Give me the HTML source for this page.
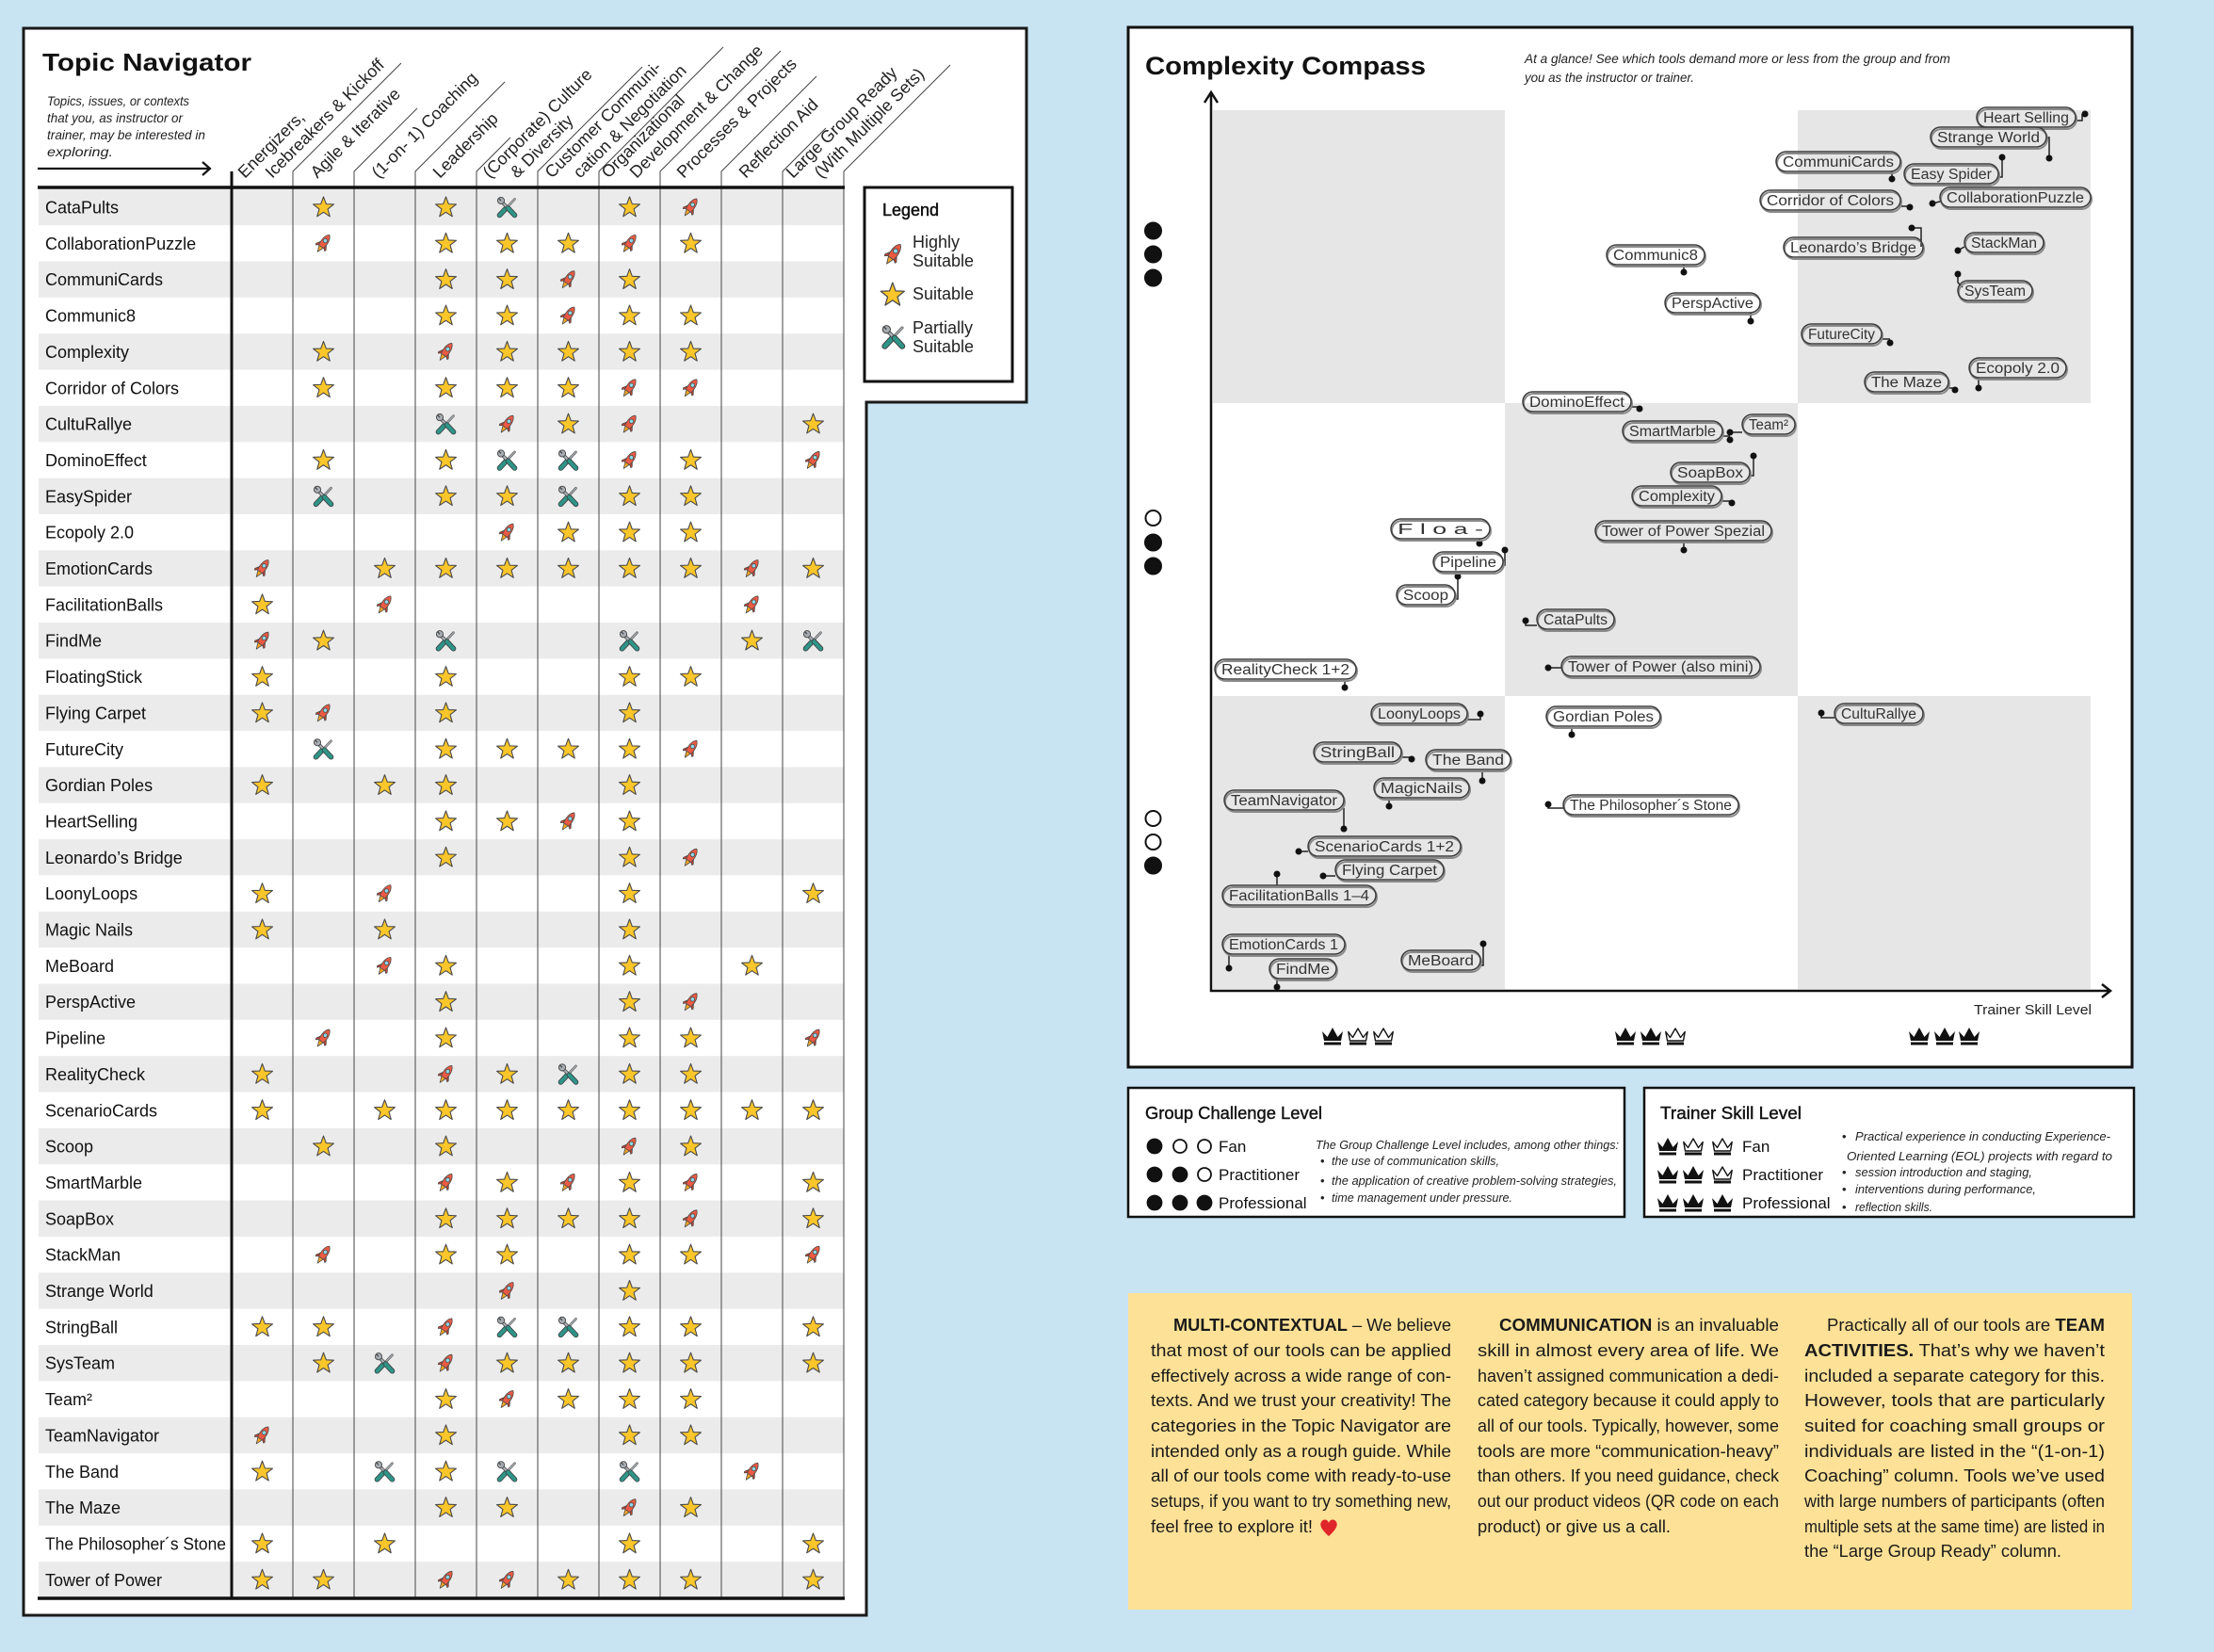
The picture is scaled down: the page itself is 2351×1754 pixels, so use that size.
<!DOCTYPE html>
<html><head><meta charset="utf-8">
<style>html,body{margin:0;padding:0;background:#c8e4f3;}svg{display:block}
.ps{fill:none;stroke:#8a8a8a;stroke-width:2}
.pm{fill:none;stroke:#3c3c3c;stroke-width:1.5}
</style>
</head><body>
<svg width="2351" height="1754" viewBox="0 0 2351 1754" xmlns="http://www.w3.org/2000/svg" xmlns:xlink="http://www.w3.org/1999/xlink" font-family="'Liberation Sans', sans-serif">
<defs>
<g id="s"><polygon points="12,1 14.82,8.62 22.94,8.95 16.57,13.98 18.76,21.8 12,17.3 5.24,21.8 7.43,13.98 1.06,8.95 9.18,8.62" fill="#fbc62a" stroke="#4a4a4a" stroke-width="1.1" stroke-linejoin="round"/></g>
<g id="r"><g transform="rotate(35 12 12)" stroke="#4a4a4a" stroke-width="0.8" stroke-linejoin="round">
<path d="M9.3,16 L12,23 L14.7,16 Z" fill="#f7a823"/>
<path d="M8.8,11.5 L5.6,16.5 L6.2,18 L9,15.8 Z" fill="#c8412f"/>
<path d="M15.2,11.5 L18.4,16.5 L17.8,18 L15,15.8 Z" fill="#c8412f"/>
<path d="M12,1 C15.6,3.8 16.2,10 15.2,16.3 L8.8,16.3 C7.8,10 8.4,3.8 12,1 Z" fill="#ec5a43"/>
<circle cx="12" cy="8.6" r="2.2" fill="#8fd8ea"/>
</g></g>
<g id="t">
<line x1="11.5" y1="12.5" x2="20" y2="3.5" stroke="#555" stroke-width="2.6" stroke-linecap="round"/>
<line x1="11.5" y1="12.5" x2="20" y2="3.5" stroke="#a7adb2" stroke-width="1.4" stroke-linecap="round"/>
<line x1="4" y1="20.5" x2="11" y2="13" stroke="#3a3a3a" stroke-width="5.6" stroke-linecap="round"/>
<line x1="4" y1="20.5" x2="11" y2="13" stroke="#2f9488" stroke-width="4" stroke-linecap="round"/>
<line x1="6" y1="6" x2="13" y2="13" stroke="#444" stroke-width="3.6" stroke-linecap="round"/>
<line x1="6" y1="6" x2="13" y2="13" stroke="#a7adb2" stroke-width="2.2"/>
<circle cx="5.5" cy="5" r="3.6" fill="#a7adb2" stroke="#444" stroke-width="0.9"/>
<line x1="3" y1="2.5" x2="5.5" y2="5" stroke="#444" stroke-width="1.2"/>
<line x1="13" y1="13" x2="20" y2="20.5" stroke="#3a3a3a" stroke-width="5.6" stroke-linecap="round"/>
<line x1="13" y1="13" x2="20" y2="20.5" stroke="#2f9488" stroke-width="4" stroke-linecap="round"/>
</g>
<g id="cf"><path d="M0,4 L5.5,10 L11,0 L16.5,10 L22,4 L20,14 L2,14 Z" fill="#111"/><rect x="2" y="15.5" width="18" height="3" fill="#111"/></g>
<g id="co"><path d="M0.8,4.5 L5.5,10.5 L11,1 L16.5,10.5 L21.2,4.5 L19.5,14 L2.5,14 Z" fill="#fff" stroke="#111" stroke-width="1.4" stroke-linejoin="round"/><rect x="2" y="15.5" width="18" height="3" fill="#111"/></g>
</defs>

<rect x="0" y="0" width="2351" height="1754" fill="#c8e4f3"/>

<!-- LEFT PANEL -->
<polygon points="25,30 1090,30 1090,427 920,427 920,1715 25,1715" fill="#fff" stroke="#1a1a1a" stroke-width="3"/>
<text x="45" y="75" font-size="26" font-weight="bold" fill="#111" textLength="222" lengthAdjust="spacingAndGlyphs">Topic Navigator</text>
<g font-size="14" font-style="italic" fill="#222">
<text x="50" y="112" textLength="151" lengthAdjust="spacingAndGlyphs">Topics, issues, or contexts</text>
<text x="50" y="130" textLength="144" lengthAdjust="spacingAndGlyphs">that you, as instructor or</text>
<text x="50" y="148" textLength="168" lengthAdjust="spacingAndGlyphs">trainer, may be interested in</text>
<text x="50" y="166" textLength="70" lengthAdjust="spacingAndGlyphs">exploring.</text>
</g>
<path d="M40,179 H223 M215,172 L223,179 L215,186" fill="none" stroke="#111" stroke-width="2.2"/>

<!-- grey rows -->
<g fill="#ebebeb">
<rect x="41" y="200.8" width="855" height="38.35"/>
<rect x="41" y="277.5" width="855" height="38.35"/>
<rect x="41" y="354.2" width="855" height="38.35"/>
<rect x="41" y="430.9" width="855" height="38.35"/>
<rect x="41" y="507.6" width="855" height="38.35"/>
<rect x="41" y="584.3" width="855" height="38.35"/>
<rect x="41" y="661.0" width="855" height="38.35"/>
<rect x="41" y="737.7" width="855" height="38.35"/>
<rect x="41" y="814.4" width="855" height="38.35"/>
<rect x="41" y="891.1" width="855" height="38.35"/>
<rect x="41" y="967.8" width="855" height="38.35"/>
<rect x="41" y="1044.5" width="855" height="38.35"/>
<rect x="41" y="1121.2" width="855" height="38.35"/>
<rect x="41" y="1197.9" width="855" height="38.35"/>
<rect x="41" y="1274.6" width="855" height="38.35"/>
<rect x="41" y="1351.3" width="855" height="38.35"/>
<rect x="41" y="1428.0" width="855" height="38.35"/>
<rect x="41" y="1504.7" width="855" height="38.35"/>
<rect x="41" y="1581.4" width="855" height="38.35"/>
<rect x="41" y="1658.1" width="855" height="38.35"/>
</g>

<!-- column dividers and slants -->
<g stroke="#444" stroke-width="1" fill="none">
<path d="M311,1697 V182 L426,67"/>
<path d="M376,1697 V182 L443,115"/>
<path d="M441,1697 V182 L536,87"/>
<path d="M506,1697 V182 L542,146"/>
<path d="M571,1697 V182 L682,71"/>
<path d="M636,1697 V182 L768,50"/>
<path d="M701,1697 V182 L829,54"/>
<path d="M766,1697 V182 L867,81"/>
<path d="M831,1697 V182 L877,136"/>
<path d="M896,1697 V182 L1009,69"/>
</g>
<line x1="246" y1="182" x2="246" y2="1698" stroke="#111" stroke-width="3"/>
<line x1="40" y1="199" x2="897" y2="199" stroke="#111" stroke-width="3.5"/>
<line x1="40" y1="1697" x2="897" y2="1697" stroke="#111" stroke-width="3.5"/>

<!-- rotated headers -->
<g font-size="18" fill="#222">
<text x="260" y="190" transform="rotate(-45 260 190)">Energizers,</text>
<text x="289" y="190" transform="rotate(-45 289 190)">Icebreakers &amp; Kickoff</text>
<text x="337" y="190" transform="rotate(-45 337 190)">Agile &amp; Iterative</text>
<text x="402" y="190" transform="rotate(-45 402 190)">(1-on- 1) Coaching</text>
<text x="467" y="190" transform="rotate(-45 467 190)">Leadership</text>
<text x="520" y="190" transform="rotate(-45 520 190)">(Corporate) Culture</text>
<text x="549" y="190" transform="rotate(-45 549 190)">&amp; Diversity</text>
<text x="586" y="190" transform="rotate(-45 586 190)">Customer Communi-</text>
<text x="616" y="190" transform="rotate(-45 616 190)">cation &amp; Negotiation</text>
<text x="646" y="190" transform="rotate(-45 646 190)">Organizational</text>
<text x="676" y="190" transform="rotate(-45 676 190)">Development &amp; Change</text>
<text x="726" y="190" transform="rotate(-45 726 190)">Processes &amp; Projects</text>
<text x="792" y="190" transform="rotate(-45 792 190)">Reflection Aid</text>
<text x="842" y="190" transform="rotate(-45 842 190)">Large Group Ready</text>
<text x="872" y="190" transform="rotate(-45 872 190)">(With Multiple Sets)</text>
</g>

<!-- names -->
<g font-size="18" fill="#111">
<text x="48" y="226.5">CataPults</text>
<text x="48" y="264.9">CollaborationPuzzle</text>
<text x="48" y="303.2">CommuniCards</text>
<text x="48" y="341.6">Communic8</text>
<text x="48" y="379.9">Complexity</text>
<text x="48" y="418.3">Corridor of Colors</text>
<text x="48" y="456.6">CultuRallye</text>
<text x="48" y="495.0">DominoEffect</text>
<text x="48" y="533.3">EasySpider</text>
<text x="48" y="571.7">Ecopoly 2.0</text>
<text x="48" y="610.0">EmotionCards</text>
<text x="48" y="648.4">FacilitationBalls</text>
<text x="48" y="686.7">FindMe</text>
<text x="48" y="725.1">FloatingStick</text>
<text x="48" y="763.4">Flying Carpet</text>
<text x="48" y="801.8">FutureCity</text>
<text x="48" y="840.1">Gordian Poles</text>
<text x="48" y="878.5">HeartSelling</text>
<text x="48" y="916.8">Leonardo’s Bridge</text>
<text x="48" y="955.2">LoonyLoops</text>
<text x="48" y="993.5">Magic Nails</text>
<text x="48" y="1031.9">MeBoard</text>
<text x="48" y="1070.2">PerspActive</text>
<text x="48" y="1108.6">Pipeline</text>
<text x="48" y="1146.9">RealityCheck</text>
<text x="48" y="1185.3">ScenarioCards</text>
<text x="48" y="1223.6">Scoop</text>
<text x="48" y="1262.0">SmartMarble</text>
<text x="48" y="1300.3">SoapBox</text>
<text x="48" y="1338.7">StackMan</text>
<text x="48" y="1377.0">Strange World</text>
<text x="48" y="1415.4">StringBall</text>
<text x="48" y="1453.7">SysTeam</text>
<text x="48" y="1492.1">Team²</text>
<text x="48" y="1530.4">TeamNavigator</text>
<text x="48" y="1568.8">The Band</text>
<text x="48" y="1607.1">The Maze</text>
<text x="48" y="1645.5" textLength="192" lengthAdjust="spacingAndGlyphs">The Philosopher´s Stone</text>
<text x="48" y="1683.8">Tower of Power</text>
</g>

<!-- icons -->
<g transform="translate(0,208)"><use href="#s" x="331.5"/><use href="#s" x="461.5"/><use href="#t" x="526.5"/><use href="#s" x="656.5"/><use href="#r" x="721.5"/></g>
<g transform="translate(0,246.35)"><use href="#r" x="331.5"/><use href="#s" x="461.5"/><use href="#s" x="526.5"/><use href="#s" x="591.5"/><use href="#r" x="656.5"/><use href="#s" x="721.5"/></g>
<g transform="translate(0,284.7)"><use href="#s" x="461.5"/><use href="#s" x="526.5"/><use href="#r" x="591.5"/><use href="#s" x="656.5"/></g>
<g transform="translate(0,323.05)"><use href="#s" x="461.5"/><use href="#s" x="526.5"/><use href="#r" x="591.5"/><use href="#s" x="656.5"/><use href="#s" x="721.5"/></g>
<g transform="translate(0,361.4)"><use href="#s" x="331.5"/><use href="#r" x="461.5"/><use href="#s" x="526.5"/><use href="#s" x="591.5"/><use href="#s" x="656.5"/><use href="#s" x="721.5"/></g>
<g transform="translate(0,399.75)"><use href="#s" x="331.5"/><use href="#s" x="461.5"/><use href="#s" x="526.5"/><use href="#s" x="591.5"/><use href="#r" x="656.5"/><use href="#r" x="721.5"/></g>
<g transform="translate(0,438.1)"><use href="#t" x="461.5"/><use href="#r" x="526.5"/><use href="#s" x="591.5"/><use href="#r" x="656.5"/><use href="#s" x="851.5"/></g>
<g transform="translate(0,476.45)"><use href="#s" x="331.5"/><use href="#s" x="461.5"/><use href="#t" x="526.5"/><use href="#t" x="591.5"/><use href="#r" x="656.5"/><use href="#s" x="721.5"/><use href="#r" x="851.5"/></g>
<g transform="translate(0,514.8)"><use href="#t" x="331.5"/><use href="#s" x="461.5"/><use href="#s" x="526.5"/><use href="#t" x="591.5"/><use href="#s" x="656.5"/><use href="#s" x="721.5"/></g>
<g transform="translate(0,553.15)"><use href="#r" x="526.5"/><use href="#s" x="591.5"/><use href="#s" x="656.5"/><use href="#s" x="721.5"/></g>
<g transform="translate(0,591.5)"><use href="#r" x="266.5"/><use href="#s" x="396.5"/><use href="#s" x="461.5"/><use href="#s" x="526.5"/><use href="#s" x="591.5"/><use href="#s" x="656.5"/><use href="#s" x="721.5"/><use href="#r" x="786.5"/><use href="#s" x="851.5"/></g>
<g transform="translate(0,629.85)"><use href="#s" x="266.5"/><use href="#r" x="396.5"/><use href="#r" x="786.5"/></g>
<g transform="translate(0,668.2)"><use href="#r" x="266.5"/><use href="#s" x="331.5"/><use href="#t" x="461.5"/><use href="#t" x="656.5"/><use href="#s" x="786.5"/><use href="#t" x="851.5"/></g>
<g transform="translate(0,706.55)"><use href="#s" x="266.5"/><use href="#s" x="461.5"/><use href="#s" x="656.5"/><use href="#s" x="721.5"/></g>
<g transform="translate(0,744.9)"><use href="#s" x="266.5"/><use href="#r" x="331.5"/><use href="#s" x="461.5"/><use href="#s" x="656.5"/></g>
<g transform="translate(0,783.25)"><use href="#t" x="331.5"/><use href="#s" x="461.5"/><use href="#s" x="526.5"/><use href="#s" x="591.5"/><use href="#s" x="656.5"/><use href="#r" x="721.5"/></g>
<g transform="translate(0,821.6)"><use href="#s" x="266.5"/><use href="#s" x="396.5"/><use href="#s" x="461.5"/><use href="#s" x="656.5"/></g>
<g transform="translate(0,859.95)"><use href="#s" x="461.5"/><use href="#s" x="526.5"/><use href="#r" x="591.5"/><use href="#s" x="656.5"/></g>
<g transform="translate(0,898.3)"><use href="#s" x="461.5"/><use href="#s" x="656.5"/><use href="#r" x="721.5"/></g>
<g transform="translate(0,936.65)"><use href="#s" x="266.5"/><use href="#r" x="396.5"/><use href="#s" x="656.5"/><use href="#s" x="851.5"/></g>
<g transform="translate(0,975)"><use href="#s" x="266.5"/><use href="#s" x="396.5"/><use href="#s" x="656.5"/></g>
<g transform="translate(0,1013.35)"><use href="#r" x="396.5"/><use href="#s" x="461.5"/><use href="#s" x="656.5"/><use href="#s" x="786.5"/></g>
<g transform="translate(0,1051.7)"><use href="#s" x="461.5"/><use href="#s" x="656.5"/><use href="#r" x="721.5"/></g>
<g transform="translate(0,1090.05)"><use href="#r" x="331.5"/><use href="#s" x="461.5"/><use href="#s" x="656.5"/><use href="#s" x="721.5"/><use href="#r" x="851.5"/></g>
<g transform="translate(0,1128.4)"><use href="#s" x="266.5"/><use href="#r" x="461.5"/><use href="#s" x="526.5"/><use href="#t" x="591.5"/><use href="#s" x="656.5"/><use href="#s" x="721.5"/></g>
<g transform="translate(0,1166.75)"><use href="#s" x="266.5"/><use href="#s" x="396.5"/><use href="#s" x="461.5"/><use href="#s" x="526.5"/><use href="#s" x="591.5"/><use href="#s" x="656.5"/><use href="#s" x="721.5"/><use href="#s" x="786.5"/><use href="#s" x="851.5"/></g>
<g transform="translate(0,1205.1)"><use href="#s" x="331.5"/><use href="#s" x="461.5"/><use href="#r" x="656.5"/><use href="#s" x="721.5"/></g>
<g transform="translate(0,1243.45)"><use href="#r" x="461.5"/><use href="#s" x="526.5"/><use href="#r" x="591.5"/><use href="#s" x="656.5"/><use href="#r" x="721.5"/><use href="#s" x="851.5"/></g>
<g transform="translate(0,1281.8)"><use href="#s" x="461.5"/><use href="#s" x="526.5"/><use href="#s" x="591.5"/><use href="#s" x="656.5"/><use href="#r" x="721.5"/><use href="#s" x="851.5"/></g>
<g transform="translate(0,1320.15)"><use href="#r" x="331.5"/><use href="#s" x="461.5"/><use href="#s" x="526.5"/><use href="#s" x="656.5"/><use href="#s" x="721.5"/><use href="#r" x="851.5"/></g>
<g transform="translate(0,1358.5)"><use href="#r" x="526.5"/><use href="#s" x="656.5"/></g>
<g transform="translate(0,1396.85)"><use href="#s" x="266.5"/><use href="#s" x="331.5"/><use href="#r" x="461.5"/><use href="#t" x="526.5"/><use href="#t" x="591.5"/><use href="#s" x="656.5"/><use href="#s" x="721.5"/><use href="#s" x="851.5"/></g>
<g transform="translate(0,1435.2)"><use href="#s" x="331.5"/><use href="#t" x="396.5"/><use href="#r" x="461.5"/><use href="#s" x="526.5"/><use href="#s" x="591.5"/><use href="#s" x="656.5"/><use href="#s" x="721.5"/><use href="#s" x="851.5"/></g>
<g transform="translate(0,1473.55)"><use href="#s" x="461.5"/><use href="#r" x="526.5"/><use href="#s" x="591.5"/><use href="#s" x="656.5"/><use href="#s" x="721.5"/></g>
<g transform="translate(0,1511.9)"><use href="#r" x="266.5"/><use href="#s" x="461.5"/><use href="#s" x="656.5"/><use href="#s" x="721.5"/></g>
<g transform="translate(0,1550.25)"><use href="#s" x="266.5"/><use href="#t" x="396.5"/><use href="#s" x="461.5"/><use href="#t" x="526.5"/><use href="#t" x="656.5"/><use href="#r" x="786.5"/></g>
<g transform="translate(0,1588.6)"><use href="#s" x="461.5"/><use href="#s" x="526.5"/><use href="#r" x="656.5"/><use href="#s" x="721.5"/></g>
<g transform="translate(0,1626.95)"><use href="#s" x="266.5"/><use href="#s" x="396.5"/><use href="#s" x="656.5"/><use href="#s" x="851.5"/></g>
<g transform="translate(0,1665.3)"><use href="#s" x="266.5"/><use href="#s" x="331.5"/><use href="#r" x="461.5"/><use href="#r" x="526.5"/><use href="#s" x="591.5"/><use href="#s" x="656.5"/><use href="#s" x="721.5"/><use href="#s" x="851.5"/></g>

<!-- LEGEND BOX -->
<rect x="918" y="199" width="157" height="206" fill="#fff" stroke="#111" stroke-width="3"/>
<text x="937" y="229" font-size="18" fill="#111" stroke="#111" stroke-width="0.5">Legend</text>
<g transform="translate(935,256) scale(1.15)"><use href="#r"/></g>
<g transform="translate(934,299) scale(1.15)"><use href="#s"/></g>
<g transform="translate(935,344) scale(1.15)"><use href="#t"/></g>
<g font-size="18" fill="#222">
<text x="969" y="263">Highly</text>
<text x="969" y="283">Suitable</text>
<text x="969" y="318">Suitable</text>
<text x="969" y="354">Partially</text>
<text x="969" y="374">Suitable</text>
</g>

<!-- COMPLEXITY COMPASS PANEL -->
<rect x="1198" y="29" width="1066" height="1104" fill="#fff" stroke="#111" stroke-width="3"/>
<text x="1216" y="79" font-size="27" font-weight="bold" fill="#111" textLength="298" lengthAdjust="spacingAndGlyphs">Complexity Compass</text>
<text x="1619" y="67" font-size="14" font-style="italic" fill="#222" textLength="452" lengthAdjust="spacingAndGlyphs">At a glance! See which tools demand more or less from the group and from</text>
<text x="1619" y="87" font-size="14" font-style="italic" fill="#222" textLength="180" lengthAdjust="spacingAndGlyphs">you as the instructor or trainer.</text>

<g fill="#e6e6e6">
<rect x="1288" y="117" width="310" height="311"/>
<rect x="1909" y="117" width="311" height="311"/>
<rect x="1598" y="428" width="311" height="311"/>
<rect x="1288" y="739" width="310" height="311"/>
<rect x="1909" y="739" width="311" height="311"/>
</g>
<path d="M1286,1053 V98 M1279,109 L1286,98 L1293,109" fill="none" stroke="#111" stroke-width="2.5"/>
<path d="M1285,1052 H2241 M2232,1045 L2241,1052 L2232,1059" fill="none" stroke="#111" stroke-width="2.5"/>

<g fill="#111" stroke="#111" stroke-width="2">
<circle cx="1224.5" cy="245" r="8.5"/>
<circle cx="1224.5" cy="270" r="8.5"/>
<circle cx="1224.5" cy="295" r="8.5"/>
<circle cx="1224.5" cy="550" r="8" fill="#fff"/>
<circle cx="1224.5" cy="576" r="8.5"/>
<circle cx="1224.5" cy="601" r="8.5"/>
<circle cx="1224.5" cy="869" r="8" fill="#fff"/>
<circle cx="1224.5" cy="894" r="8" fill="#fff"/>
<circle cx="1224.5" cy="919" r="8.5"/>
</g>

<text x="2221" y="1077" font-size="15" fill="#222" text-anchor="end" textLength="125" lengthAdjust="spacingAndGlyphs">Trainer Skill Level</text>
<use href="#cf" x="1404" y="1091"/><use href="#co" x="1431" y="1091"/><use href="#co" x="1458" y="1091"/>
<use href="#cf" x="1715" y="1091"/><use href="#cf" x="1742" y="1091"/><use href="#co" x="1768" y="1091"/>
<use href="#cf" x="2027" y="1091"/><use href="#cf" x="2054" y="1091"/><use href="#cf" x="2080" y="1091"/>

<!-- connectors -->
<g fill="none" stroke="#222" stroke-width="1.5">
<path d="M2204,128 H2211 V121"/>
<path d="M2173,146 H2176 V168"/>
<path d="M2009,182 V190"/>
<path d="M2122,188 H2126 V167"/>
<path d="M2018,219 H2028"/>
<path d="M2060,214 L2052,216"/>
<path d="M2030,242 H2040 V262"/>
<path d="M2079,266 L2086,262"/>
<path d="M2079,291 V300 L2084,305"/>
<path d="M1788,281 V289"/>
<path d="M1859,332 V341"/>
<path d="M1998,360 H2007"/>
<path d="M2101,401 V412"/>
<path d="M2069,412 H2076"/>
<path d="M1732,432 H1741"/>
<path d="M1829,463 H1837 M1837,459 H1850"/>
<path d="M1858,505 H1862 V484"/>
<path d="M1828,532 H1839"/>
<path d="M1788,575 V584"/>
<path d="M1571,572 V577"/>
<path d="M1596,600 H1598 V584"/>
<path d="M1545,636 H1548 V612"/>
<path d="M1620,659 V664 H1632"/>
<path d="M1644,709 H1658"/>
<path d="M1428,722 V730"/>
<path d="M1558,764 H1572 V758"/>
<path d="M1669,772 V780"/>
<path d="M1934,757 V762 H1948"/>
<path d="M1488,804 H1499"/>
<path d="M1574,818 V829"/>
<path d="M1475,848 V856"/>
<path d="M1427,858 V880"/>
<path d="M1379,904 H1389"/>
<path d="M1405,930 H1418"/>
<path d="M1356,928 V940"/>
<path d="M1305,1013 V1028"/>
<path d="M1356,1040 V1048"/>
<path d="M1572,1025 H1575 V1002"/>
<path d="M1644,854 V858 H1660"/>
</g>
<g fill="#111">
<circle cx="2214" cy="121" r="3.5"/><circle cx="2176" cy="168" r="3.5"/><circle cx="2009" cy="190" r="3.5"/>
<circle cx="2126" cy="167" r="3.5"/><circle cx="2028" cy="220" r="3.5"/><circle cx="2052" cy="216" r="3.5"/>
<circle cx="2030" cy="242" r="3.5"/><circle cx="2079" cy="266" r="3.5"/><circle cx="2079" cy="291" r="3.5"/>
<circle cx="1788" cy="289" r="3.5"/><circle cx="1859" cy="341" r="3.5"/><circle cx="2007" cy="364" r="3.5"/>
<circle cx="2101" cy="412" r="3.5"/><circle cx="2076" cy="414" r="3.5"/><circle cx="1741" cy="434" r="3.5"/>
<circle cx="1837" cy="459" r="3.5"/><circle cx="1837" cy="467" r="3.5"/><circle cx="1862" cy="484" r="3.5"/>
<circle cx="1839" cy="534" r="3.5"/><circle cx="1788" cy="584" r="3.5"/><circle cx="1571" cy="577" r="3.5"/>
<circle cx="1598" cy="584" r="3.5"/><circle cx="1548" cy="612" r="3.5"/><circle cx="1620" cy="659" r="3.5"/>
<circle cx="1644" cy="709" r="3.5"/><circle cx="1428" cy="730" r="3.5"/><circle cx="1572" cy="758" r="3.5"/>
<circle cx="1669" cy="780" r="3.5"/><circle cx="1934" cy="757" r="3.5"/><circle cx="1499" cy="806" r="3.5"/>
<circle cx="1574" cy="829" r="3.5"/><circle cx="1475" cy="856" r="3.5"/><circle cx="1427" cy="880" r="3.5"/>
<circle cx="1379" cy="904" r="3.5"/><circle cx="1405" cy="930" r="3.5"/><circle cx="1356" cy="928" r="3.5"/>
<circle cx="1305" cy="1028" r="3.5"/><circle cx="1356" cy="1048" r="3.5"/><circle cx="1575" cy="1002" r="3.5"/>
<circle cx="1644" cy="854" r="3.5"/>
</g>

<!-- pills -->
<g font-size="15.5" fill="#333">
<g><rect class="ps" x="2100" y="116" width="105" height="21" rx="10.5"/><rect class="pm" x="2099" y="114" width="105" height="21" rx="10.5"/><text x="2106" y="130" textLength="91" lengthAdjust="spacingAndGlyphs">Heart Selling</text></g>
<g><rect class="ps" x="2051" y="137" width="123" height="21" rx="10.5"/><rect class="pm" x="2050" y="135" width="123" height="21" rx="10.5"/><text x="2057" y="151" textLength="109" lengthAdjust="spacingAndGlyphs">Strange World</text></g>
<g><rect class="ps" x="1887" y="163" width="132" height="21" rx="10.5"/><rect class="pm" x="1886" y="161" width="132" height="21" rx="10.5"/><text x="1893" y="177" textLength="118" lengthAdjust="spacingAndGlyphs">CommuniCards</text></g>
<g><rect class="ps" x="2023" y="176" width="100" height="21" rx="10.5"/><rect class="pm" x="2022" y="174" width="100" height="21" rx="10.5"/><text x="2029" y="190" textLength="86" lengthAdjust="spacingAndGlyphs">Easy Spider</text></g>
<g><rect class="ps" x="1870" y="204" width="149" height="21" rx="10.5"/><rect class="pm" x="1869" y="202" width="149" height="21" rx="10.5"/><text x="1876" y="218" textLength="135" lengthAdjust="spacingAndGlyphs">Corridor of Colors</text></g>
<g><rect class="ps" x="2061" y="201" width="160" height="21" rx="10.5"/><rect class="pm" x="2060" y="199" width="160" height="21" rx="10.5"/><text x="2067" y="215" textLength="146" lengthAdjust="spacingAndGlyphs">CollaborationPuzzle</text></g>
<g><rect class="ps" x="1895" y="254" width="148" height="21" rx="10.5"/><rect class="pm" x="1894" y="252" width="148" height="21" rx="10.5"/><text x="1901" y="268" textLength="134" lengthAdjust="spacingAndGlyphs">Leonardo’s Bridge</text></g>
<g><rect class="ps" x="2087" y="249" width="84" height="21" rx="10.5"/><rect class="pm" x="2086" y="247" width="84" height="21" rx="10.5"/><text x="2093" y="263" textLength="70" lengthAdjust="spacingAndGlyphs">StackMan</text></g>
<g><rect class="ps" x="2080" y="300" width="79" height="21" rx="10.5"/><rect class="pm" x="2079" y="298" width="79" height="21" rx="10.5"/><text x="2086" y="314" textLength="65" lengthAdjust="spacingAndGlyphs">SysTeam</text></g>
<g><rect class="ps" x="1707" y="262" width="104" height="21" rx="10.5"/><rect class="pm" x="1706" y="260" width="104" height="21" rx="10.5"/><text x="1713" y="276" textLength="90" lengthAdjust="spacingAndGlyphs">Communic8</text></g>
<g><rect class="ps" x="1769" y="313" width="101" height="21" rx="10.5"/><rect class="pm" x="1768" y="311" width="101" height="21" rx="10.5"/><text x="1775" y="327" textLength="87" lengthAdjust="spacingAndGlyphs">PerspActive</text></g>
<g><rect class="ps" x="1914" y="346" width="85" height="21" rx="10.5"/><rect class="pm" x="1913" y="344" width="85" height="21" rx="10.5"/><text x="1920" y="360" textLength="71" lengthAdjust="spacingAndGlyphs">FutureCity</text></g>
<g><rect class="ps" x="2092" y="382" width="103" height="21" rx="10.5"/><rect class="pm" x="2091" y="380" width="103" height="21" rx="10.5"/><text x="2098" y="396" textLength="89" lengthAdjust="spacingAndGlyphs">Ecopoly 2.0</text></g>
<g><rect class="ps" x="1981" y="397" width="89" height="21" rx="10.5"/><rect class="pm" x="1980" y="395" width="89" height="21" rx="10.5"/><text x="1987" y="411" textLength="75" lengthAdjust="spacingAndGlyphs">The Maze</text></g>
<g><rect class="ps" x="1618" y="418" width="115" height="21" rx="10.5"/><rect class="pm" x="1617" y="416" width="115" height="21" rx="10.5"/><text x="1624" y="432" textLength="101" lengthAdjust="spacingAndGlyphs">DominoEffect</text></g>
<g><rect class="ps" x="1724" y="449" width="106" height="21" rx="10.5"/><rect class="pm" x="1723" y="447" width="106" height="21" rx="10.5"/><text x="1730" y="463" textLength="92" lengthAdjust="spacingAndGlyphs">SmartMarble</text></g>
<g><rect class="ps" x="1851" y="442" width="56" height="21" rx="10.5"/><rect class="pm" x="1850" y="440" width="56" height="21" rx="10.5"/><text x="1857" y="456" textLength="42" lengthAdjust="spacingAndGlyphs">Team²</text></g>
<g><rect class="ps" x="1775" y="493" width="84" height="21" rx="10.5"/><rect class="pm" x="1774" y="491" width="84" height="21" rx="10.5"/><text x="1781" y="507" textLength="70" lengthAdjust="spacingAndGlyphs">SoapBox</text></g>
<g><rect class="ps" x="1734" y="518" width="95" height="21" rx="10.5"/><rect class="pm" x="1733" y="516" width="95" height="21" rx="10.5"/><text x="1740" y="532" textLength="81" lengthAdjust="spacingAndGlyphs">Complexity</text></g>
<g><rect class="ps" x="1695" y="555" width="187" height="21" rx="10.5"/><rect class="pm" x="1694" y="553" width="187" height="21" rx="10.5"/><text x="1701" y="569" textLength="173" lengthAdjust="spacingAndGlyphs">Tower of Power Spezial</text></g>
<g><rect class="ps" x="1478" y="553" width="105" height="21" rx="10.5"/><rect class="pm" x="1477" y="551" width="105" height="21" rx="10.5"/><text x="1484" y="567" textLength="91" lengthAdjust="spacingAndGlyphs">F l o a -</text></g>
<g><rect class="ps" x="1523" y="588" width="74" height="21" rx="10.5"/><rect class="pm" x="1522" y="586" width="74" height="21" rx="10.5"/><text x="1529" y="602" textLength="60" lengthAdjust="spacingAndGlyphs">Pipeline</text></g>
<g><rect class="ps" x="1484" y="623" width="62" height="21" rx="10.5"/><rect class="pm" x="1483" y="621" width="62" height="21" rx="10.5"/><text x="1490" y="637" textLength="48" lengthAdjust="spacingAndGlyphs">Scoop</text></g>
<g><rect class="ps" x="1633" y="649" width="82" height="21" rx="10.5"/><rect class="pm" x="1632" y="647" width="82" height="21" rx="10.5"/><text x="1639" y="663" textLength="68" lengthAdjust="spacingAndGlyphs">CataPults</text></g>
<g><rect class="ps" x="1659" y="699" width="211" height="21" rx="10.5"/><rect class="pm" x="1658" y="697" width="211" height="21" rx="10.5"/><text x="1665" y="713" textLength="197" lengthAdjust="spacingAndGlyphs">Tower of Power (also mini)</text></g>
<g><rect class="ps" x="1291" y="702" width="150" height="21" rx="10.5"/><rect class="pm" x="1290" y="700" width="150" height="21" rx="10.5"/><text x="1297" y="716" textLength="136" lengthAdjust="spacingAndGlyphs">RealityCheck 1+2</text></g>
<g><rect class="ps" x="1457" y="749" width="102" height="21" rx="10.5"/><rect class="pm" x="1456" y="747" width="102" height="21" rx="10.5"/><text x="1463" y="763" textLength="88" lengthAdjust="spacingAndGlyphs">LoonyLoops</text></g>
<g><rect class="ps" x="1643" y="752" width="121" height="21" rx="10.5"/><rect class="pm" x="1642" y="750" width="121" height="21" rx="10.5"/><text x="1649" y="766" textLength="107" lengthAdjust="spacingAndGlyphs">Gordian Poles</text></g>
<g><rect class="ps" x="1949" y="749" width="94" height="21" rx="10.5"/><rect class="pm" x="1948" y="747" width="94" height="21" rx="10.5"/><text x="1955" y="763" textLength="80" lengthAdjust="spacingAndGlyphs">CultuRallye</text></g>
<g><rect class="ps" x="1396" y="790" width="93" height="21" rx="10.5"/><rect class="pm" x="1395" y="788" width="93" height="21" rx="10.5"/><text x="1402" y="804" textLength="79" lengthAdjust="spacingAndGlyphs">StringBall</text></g>
<g><rect class="ps" x="1515" y="798" width="90" height="21" rx="10.5"/><rect class="pm" x="1514" y="796" width="90" height="21" rx="10.5"/><text x="1521" y="812" textLength="76" lengthAdjust="spacingAndGlyphs">The Band</text></g>
<g><rect class="ps" x="1460" y="828" width="101" height="21" rx="10.5"/><rect class="pm" x="1459" y="826" width="101" height="21" rx="10.5"/><text x="1466" y="842" textLength="87" lengthAdjust="spacingAndGlyphs">MagicNails</text></g>
<g><rect class="ps" x="1301" y="841" width="127" height="21" rx="10.5"/><rect class="pm" x="1300" y="839" width="127" height="21" rx="10.5"/><text x="1307" y="855" textLength="113" lengthAdjust="spacingAndGlyphs">TeamNavigator</text></g>
<g><rect class="ps" x="1390" y="890" width="162" height="21" rx="10.5"/><rect class="pm" x="1389" y="888" width="162" height="21" rx="10.5"/><text x="1396" y="904" textLength="148" lengthAdjust="spacingAndGlyphs">ScenarioCards 1+2</text></g>
<g><rect class="ps" x="1419" y="915" width="115" height="21" rx="10.5"/><rect class="pm" x="1418" y="913" width="115" height="21" rx="10.5"/><text x="1425" y="929" textLength="101" lengthAdjust="spacingAndGlyphs">Flying Carpet</text></g>
<g><rect class="ps" x="1299" y="942" width="163" height="21" rx="10.5"/><rect class="pm" x="1298" y="940" width="163" height="21" rx="10.5"/><text x="1305" y="956" textLength="149" lengthAdjust="spacingAndGlyphs">FacilitationBalls 1–4</text></g>
<g><rect class="ps" x="1299" y="994" width="130" height="21" rx="10.5"/><rect class="pm" x="1298" y="992" width="130" height="21" rx="10.5"/><text x="1305" y="1008" textLength="116" lengthAdjust="spacingAndGlyphs">EmotionCards 1</text></g>
<g><rect class="ps" x="1349" y="1020" width="71" height="21" rx="10.5"/><rect class="pm" x="1348" y="1018" width="71" height="21" rx="10.5"/><text x="1355" y="1034" textLength="57" lengthAdjust="spacingAndGlyphs">FindMe</text></g>
<g><rect class="ps" x="1489" y="1011" width="84" height="21" rx="10.5"/><rect class="pm" x="1488" y="1009" width="84" height="21" rx="10.5"/><text x="1495" y="1025" textLength="70" lengthAdjust="spacingAndGlyphs">MeBoard</text></g>
<g><rect class="ps" x="1661" y="846" width="186" height="21" rx="10.5"/><rect class="pm" x="1660" y="844" width="186" height="21" rx="10.5"/><text x="1667" y="860" textLength="172" lengthAdjust="spacingAndGlyphs">The Philosopher´s Stone</text></g>
</g>

<!-- GROUP CHALLENGE LEVEL -->
<rect x="1198" y="1155" width="527" height="137" fill="#fff" stroke="#111" stroke-width="2.5"/>
<text x="1216" y="1188" font-size="18" fill="#111" stroke="#111" stroke-width="0.4" textLength="188" lengthAdjust="spacingAndGlyphs">Group Challenge Level</text>
<g fill="#111" stroke="#111" stroke-width="1.8">
<circle cx="1226" cy="1217" r="7.5"/><circle cx="1253" cy="1217" r="7" fill="#fff"/><circle cx="1279" cy="1217" r="7" fill="#fff"/>
<circle cx="1226" cy="1247" r="7.5"/><circle cx="1253" cy="1247" r="7.5"/><circle cx="1279" cy="1247" r="7" fill="#fff"/>
<circle cx="1226" cy="1277" r="7.5"/><circle cx="1253" cy="1277" r="7.5"/><circle cx="1279" cy="1277" r="7.5"/>
</g>
<g font-size="17" fill="#111">
<text x="1294" y="1223">Fan</text>
<text x="1294" y="1253">Practitioner</text>
<text x="1294" y="1283">Professional</text>
</g>
<g font-size="13" font-style="italic" fill="#222">
<text x="1397" y="1220" textLength="322" lengthAdjust="spacingAndGlyphs">The Group Challenge Level includes, among other things:</text>
<text x="1402" y="1237" font-style="normal">•</text><text x="1414" y="1237" textLength="178" lengthAdjust="spacingAndGlyphs">the use of communication skills,</text>
<text x="1402" y="1258" font-style="normal">•</text><text x="1414" y="1258" textLength="303" lengthAdjust="spacingAndGlyphs">the application of creative problem-solving strategies,</text>
<text x="1402" y="1276" font-style="normal">•</text><text x="1414" y="1276" textLength="192" lengthAdjust="spacingAndGlyphs">time management under pressure.</text>
</g>

<!-- TRAINER SKILL LEVEL -->
<rect x="1746" y="1155" width="520" height="137" fill="#fff" stroke="#111" stroke-width="2.5"/>
<text x="1763" y="1188" font-size="18" fill="#111" stroke="#111" stroke-width="0.4" textLength="150" lengthAdjust="spacingAndGlyphs">Trainer Skill Level</text>
<use href="#cf" x="1760" y="1208"/><use href="#co" x="1787" y="1208"/><use href="#co" x="1818" y="1208"/>
<use href="#cf" x="1760" y="1238"/><use href="#cf" x="1787" y="1238"/><use href="#co" x="1818" y="1238"/>
<use href="#cf" x="1760" y="1268"/><use href="#cf" x="1787" y="1268"/><use href="#cf" x="1818" y="1268"/>
<g font-size="17" fill="#111">
<text x="1850" y="1223">Fan</text>
<text x="1850" y="1253">Practitioner</text>
<text x="1850" y="1283">Professional</text>
</g>
<g font-size="13" font-style="italic" fill="#222">
<text x="1956" y="1211" font-style="normal">•</text><text x="1970" y="1211" textLength="271" lengthAdjust="spacingAndGlyphs">Practical experience in conducting Experience-</text>
<text x="1961" y="1232" textLength="282" lengthAdjust="spacingAndGlyphs">Oriented Learning (EOL) projects with regard to</text>
<text x="1956" y="1249" font-style="normal">•</text><text x="1970" y="1249" textLength="188" lengthAdjust="spacingAndGlyphs">session introduction and staging,</text>
<text x="1956" y="1267" font-style="normal">•</text><text x="1970" y="1267" textLength="192" lengthAdjust="spacingAndGlyphs">interventions during performance,</text>
<text x="1956" y="1286" font-style="normal">•</text><text x="1970" y="1286" textLength="82" lengthAdjust="spacingAndGlyphs">reflection skills.</text>
</g>

<!-- YELLOW BOX -->
<rect x="1198" y="1373" width="1066" height="336" fill="#fde196"/>
<g font-size="18" fill="#1a1a1a">
<text x="1246" y="1413" textLength="295" lengthAdjust="spacingAndGlyphs"><tspan font-weight="bold">MULTI-CONTEXTUAL</tspan> – We believe</text>
<text x="1222" y="1440" textLength="319" lengthAdjust="spacingAndGlyphs">that most of our tools can be applied</text>
<text x="1222" y="1467" textLength="319" lengthAdjust="spacingAndGlyphs">effectively across a wide range of con-</text>
<text x="1222" y="1493" textLength="319" lengthAdjust="spacingAndGlyphs">texts. And we trust your creativity! The</text>
<text x="1222" y="1520" textLength="319" lengthAdjust="spacingAndGlyphs">categories in the Topic Navigator are</text>
<text x="1222" y="1547" textLength="319" lengthAdjust="spacingAndGlyphs">intended only as a rough guide. While</text>
<text x="1222" y="1573" textLength="319" lengthAdjust="spacingAndGlyphs">all of our tools come with ready-to-use</text>
<text x="1222" y="1600" textLength="319" lengthAdjust="spacingAndGlyphs">setups, if you want to try something new,</text>
<text x="1222" y="1627" textLength="172" lengthAdjust="spacingAndGlyphs">feel free to explore it!</text>

<text x="1592" y="1413" textLength="297" lengthAdjust="spacingAndGlyphs"><tspan font-weight="bold">COMMUNICATION</tspan> is an invaluable</text>
<text x="1569" y="1440" textLength="320" lengthAdjust="spacingAndGlyphs">skill in almost every area of life. We</text>
<text x="1569" y="1467" textLength="320" lengthAdjust="spacingAndGlyphs">haven’t assigned communication a dedi-</text>
<text x="1569" y="1493" textLength="320" lengthAdjust="spacingAndGlyphs">cated category because it could apply to</text>
<text x="1569" y="1520" textLength="320" lengthAdjust="spacingAndGlyphs">all of our tools. Typically, however, some</text>
<text x="1569" y="1547" textLength="320" lengthAdjust="spacingAndGlyphs">tools are more “communication-heavy”</text>
<text x="1569" y="1573" textLength="320" lengthAdjust="spacingAndGlyphs">than others. If you need guidance, check</text>
<text x="1569" y="1600" textLength="320" lengthAdjust="spacingAndGlyphs">out our product videos (QR code on each</text>
<text x="1569" y="1627" textLength="205" lengthAdjust="spacingAndGlyphs">product) or give us a call.</text>

<text x="1940" y="1413" textLength="295" lengthAdjust="spacingAndGlyphs">Practically all of our tools are <tspan font-weight="bold">TEAM</tspan></text>
<text x="1916" y="1440" textLength="319" lengthAdjust="spacingAndGlyphs"><tspan font-weight="bold">ACTIVITIES.</tspan> That’s why we haven’t</text>
<text x="1916" y="1467" textLength="319" lengthAdjust="spacingAndGlyphs">included a separate category for this.</text>
<text x="1916" y="1493" textLength="319" lengthAdjust="spacingAndGlyphs">However, tools that are particularly</text>
<text x="1916" y="1520" textLength="319" lengthAdjust="spacingAndGlyphs">suited for coaching small groups or</text>
<text x="1916" y="1547" textLength="319" lengthAdjust="spacingAndGlyphs">individuals are listed in the “(1-on-1)</text>
<text x="1916" y="1573" textLength="319" lengthAdjust="spacingAndGlyphs">Coaching” column. Tools we’ve used</text>
<text x="1916" y="1600" textLength="319" lengthAdjust="spacingAndGlyphs">with large numbers of participants (often</text>
<text x="1916" y="1627" textLength="319" lengthAdjust="spacingAndGlyphs">multiple sets at the same time) are listed in</text>
<text x="1916" y="1653" textLength="273" lengthAdjust="spacingAndGlyphs">the “Large Group Ready” column.</text>
</g>
<path d="M1411,1631 C1403,1624 1401,1619 1403,1616 C1405,1612 1410,1613 1411,1617 C1412,1613 1417,1612 1419,1616 C1421,1619 1419,1624 1411,1631 Z" fill="#e0262b"/>
</svg>
</body></html>
